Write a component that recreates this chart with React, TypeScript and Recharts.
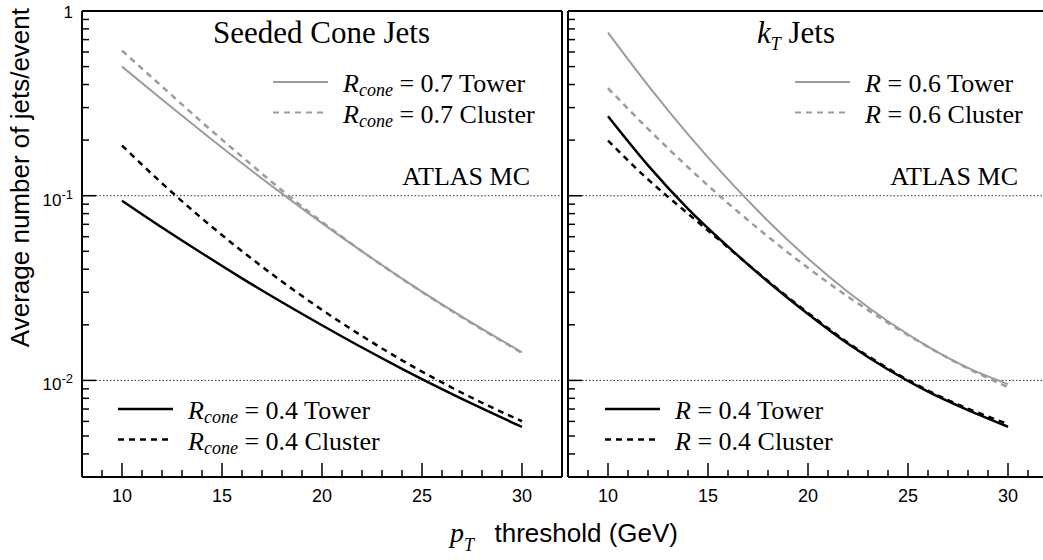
import React from "react";
import { LineChart, Line, XAxis, YAxis, ReferenceLine } from "recharts";

// pT threshold (GeV)
const ptThresholds = [10, 12, 14, 16, 18, 20, 22, 24, 26, 28, 30];

// Seeded cone jets
const coneTower07 = [0.5, 0.332, 0.222, 0.15, 0.1026, 0.0711, 0.05, 0.0356, 0.0258, 0.019, 0.0142];
const coneCluster07 = [0.61, 0.39, 0.25, 0.1626, 0.1069, 0.0721, 0.05, 0.0355, 0.0257, 0.0189, 0.0141];
const coneTower04 = [0.094, 0.0673, 0.0488, 0.0357, 0.0265, 0.0199, 0.01507, 0.01156, 0.00897, 0.00705, 0.0056];
const coneCluster04 = [0.187, 0.1167, 0.0753, 0.0501, 0.0343, 0.0241, 0.0174, 0.01285, 0.00975, 0.00757, 0.00601];

// kT jets
const ktTower06 = [0.764, 0.396, 0.215, 0.1225, 0.073, 0.0457, 0.0301, 0.0209, 0.01525, 0.0117, 0.00955];
const ktCluster06 = [0.382, 0.23, 0.1426, 0.0911, 0.06, 0.0407, 0.0284, 0.0205, 0.0152, 0.0116, 0.0092];
const ktTower04 = [0.269, 0.1459, 0.0849, 0.053, 0.0342, 0.0229, 0.0158, 0.01146, 0.00869, 0.0069, 0.00561];
const ktCluster04 = [0.1986, 0.1225, 0.08, 0.0525, 0.0345, 0.0232, 0.016, 0.01161, 0.00881, 0.00703, 0.00581];

const xTicks = [9, 10, 11, 12, 13, 14, 15, 16, 17, 18, 19, 20, 21, 22, 23, 24, 25, 26, 27, 28, 29, 30, 31];
const xLabelTicks = [10, 15, 20, 25, 30];
const yTicks = [
  0.004, 0.005, 0.006, 0.007, 0.008, 0.009, 0.01,
  0.02, 0.03, 0.04, 0.05, 0.06, 0.07, 0.08, 0.09, 0.1,
  0.2, 0.3, 0.4, 0.5, 0.6, 0.7, 0.8, 0.9, 1,
];
const yMajorTicks = [1, 0.1, 0.01];
const yMajorExponents = ["", "-1", "-2"];

const GRAY = "#9c9c9c";
const SANS = "'Liberation Sans', Arial, sans-serif";
const SERIF = "'Liberation Serif', 'Times New Roman', serif";

const coneData = ptThresholds.map((pt, i) => ({
  pt,
  tower07: coneTower07[i],
  cluster07: coneCluster07[i],
  tower04: coneTower04[i],
  cluster04: coneCluster04[i],
}));

const ktData = ptThresholds.map((pt, i) => ({
  pt,
  tower06: ktTower06[i],
  cluster06: ktCluster06[i],
  tower04: ktTower04[i],
  cluster04: ktCluster04[i],
}));

function XTick(props: any) {
  const { x, y, payload } = props;
  const v = payload.value;
  const major = xLabelTicks.includes(v);
  return (
    <g>
      <line x1={x} x2={x} y1={y} y2={y - (major ? 14 : 7)} stroke="#000" strokeWidth={1.5} />
      {major && (
        <text x={x} y={y + 25} textAnchor="middle" fontFamily={SANS} fontSize={18} fill="#000">
          {v}
        </text>
      )}
    </g>
  );
}

function makeYTick(showLabels: boolean) {
  return function YTick(props: any) {
    const { x, y, payload } = props;
    const v = payload.value;
    const idx = yMajorTicks.indexOf(v);
    const major = idx >= 0;
    const exp = major ? yMajorExponents[idx] : "";
    return (
      <g>
        <line x1={x} x2={x + (major ? 14 : 7)} y1={y} y2={y} stroke="#000" strokeWidth={1.5} />
        {showLabels && major && (
          <text x={x - 9} y={y + (exp ? 10 : 7)} textAnchor="end" fontFamily={SANS} fontSize={17} fill="#000">
            {exp ? "10" : "1"}
            {exp && (
              <tspan dy={-7} fontSize={13}>
                {exp}
              </tspan>
            )}
          </text>
        )}
      </g>
    );
  };
}

const YTickLabelled = makeYTick(true);
const YTickPlain = makeYTick(false);

function Frame({ right }: { right: boolean }) {
  return (
    <>
      <ReferenceLine y={0.1} stroke="#333" strokeWidth={1} strokeDasharray="1.5 2" />
      <ReferenceLine y={0.01} stroke="#333" strokeWidth={1} strokeDasharray="1.5 2" />
      <ReferenceLine y={1} stroke="#000" strokeWidth={2} ifOverflow="visible" />
      {right && <ReferenceLine x={32} stroke="#000" strokeWidth={2} ifOverflow="visible" />}
    </>
  );
}

function Legend({ x, y, items }: { x: number; y: number; items: { sub: string; text: string; color: string; dash?: string }[] }) {
  return (
    <g>
      {items.map((it, i) => {
        const by = y + i * 30.5;
        return (
          <g key={i}>
            <line
              x1={x}
              x2={x + 55}
              y1={by - 10}
              y2={by - 10}
              stroke={it.color}
              strokeWidth={it.color === GRAY ? 2 : 2.5}
              strokeDasharray={it.dash}
            />
            <text x={x + 70} y={by} fontFamily={SERIF} fontSize={26} fill="#000">
              <tspan fontStyle="italic">R</tspan>
              {it.sub && (
                <tspan fontStyle="italic" fontSize={18} dy={4}>
                  {it.sub}
                </tspan>
              )}
              <tspan dy={it.sub ? -4 : 0}>{" = " + it.text}</tspan>
            </text>
          </g>
        );
      })}
    </g>
  );
}

export default function App() {
  return (
    <div style={{ position: "fixed", left: 0, top: 0, width: 1043, height: 560, overflow: "hidden", background: "#fff" }}>
      <div style={{ position: "absolute", left: 0, top: 0 }}>
        <LineChart width={570} height={560} data={coneData} margin={{ top: 11, right: 8, bottom: 53, left: 0 }}>
          <XAxis
            dataKey="pt"
            type="number"
            domain={[8, 32]}
            ticks={xTicks}
            interval={0}
            height={30}
            tickSize={0}
            tickMargin={0}
            tickLine={false}
            axisLine={{ stroke: "#000", strokeWidth: 2 }}
            tick={<XTick />}
          />
          <YAxis
            type="number"
            scale="log"
            domain={[0.003, 1]}
            allowDataOverflow
            ticks={yTicks}
            interval={0}
            width={82}
            tickSize={0}
            tickMargin={0}
            tickLine={false}
            axisLine={{ stroke: "#000", strokeWidth: 2 }}
            tick={<YTickLabelled />}
          />
          {Frame({ right: true })}
          <Line dataKey="cluster07" type="monotone" stroke={GRAY} strokeWidth={2.5} strokeDasharray="6 5" dot={false} isAnimationActive={false} />
          <Line dataKey="tower07" type="monotone" stroke={GRAY} strokeWidth={2} dot={false} isAnimationActive={false} />
          <Line dataKey="cluster04" type="monotone" stroke="#000" strokeWidth={2.5} strokeDasharray="6 5" dot={false} isAnimationActive={false} />
          <Line dataKey="tower04" type="monotone" stroke="#000" strokeWidth={2.5} dot={false} isAnimationActive={false} />
        </LineChart>
      </div>
      <div style={{ position: "absolute", left: 560, top: 0 }}>
        <LineChart width={495} height={560} data={ktData} margin={{ top: 11, right: 7, bottom: 53, left: 0 }}>
          <XAxis
            dataKey="pt"
            type="number"
            domain={[8, 32]}
            ticks={xTicks}
            interval={0}
            height={30}
            tickSize={0}
            tickMargin={0}
            tickLine={false}
            axisLine={{ stroke: "#000", strokeWidth: 2 }}
            tick={<XTick />}
          />
          <YAxis
            type="number"
            scale="log"
            domain={[0.003, 1]}
            allowDataOverflow
            ticks={yTicks}
            interval={0}
            width={8}
            tickSize={0}
            tickMargin={0}
            tickLine={false}
            axisLine={{ stroke: "#000", strokeWidth: 2 }}
            tick={<YTickPlain />}
          />
          {Frame({ right: true })}
          <Line dataKey="tower06" type="monotone" stroke={GRAY} strokeWidth={2} dot={false} isAnimationActive={false} />
          <Line dataKey="cluster06" type="monotone" stroke={GRAY} strokeWidth={2.5} strokeDasharray="6 5" dot={false} isAnimationActive={false} />
          <Line dataKey="tower04" type="monotone" stroke="#000" strokeWidth={2.5} dot={false} isAnimationActive={false} />
          <Line dataKey="cluster04" type="monotone" stroke="#000" strokeWidth={2.5} strokeDasharray="6 5" dot={false} isAnimationActive={false} />
        </LineChart>
      </div>
      <svg width={1043} height={560} style={{ position: "absolute", left: 0, top: 0, pointerEvents: "none" }}>
        {/* axis titles */}
        <text transform="translate(29, 8) rotate(-90)" textAnchor="end" fontFamily={SANS} fontSize={26} fill="#000">
          Average number of jets/event
        </text>
        <text x={450} y={542} fontFamily={SERIF} fontSize={28} fontStyle="italic" fill="#000">
          p
          <tspan fontSize={18} dy={9}>T</tspan>
        </text>
        <text x={678} y={542} textAnchor="end" fontFamily={SANS} fontSize={26} fill="#000">
          threshold (GeV)
        </text>

        {/* panel titles */}
        <text x={213} y={43} fontFamily={SERIF} fontSize={31} fill="#000">
          Seeded Cone Jets
        </text>
        <text x={757} y={43} fontFamily={SERIF} fontSize={31} fill="#000">
          <tspan fontStyle="italic">k</tspan>
          <tspan fontStyle="italic" fontSize={18} dy={7}>T</tspan>
          <tspan dy={-7}>{"  Jets"}</tspan>
        </text>

        <text x={530} y={185} textAnchor="end" fontFamily={SERIF} fontSize={26} fill="#000">
          ATLAS MC
        </text>
        <text x={1018} y={185} textAnchor="end" fontFamily={SERIF} fontSize={26} fill="#000">
          ATLAS MC
        </text>

        <Legend
          x={273}
          y={92}
          items={[
            { sub: "cone", text: "0.7 Tower", color: GRAY },
            { sub: "cone", text: "0.7 Cluster", color: GRAY, dash: "6 5" },
          ]}
        />
        <Legend
          x={118}
          y={419}
          items={[
            { sub: "cone", text: "0.4 Tower", color: "#000" },
            { sub: "cone", text: "0.4 Cluster", color: "#000", dash: "6 5" },
          ]}
        />
        <Legend
          x={795}
          y={92}
          items={[
            { sub: "", text: "0.6 Tower", color: GRAY },
            { sub: "", text: "0.6 Cluster", color: GRAY, dash: "6 5" },
          ]}
        />
        <Legend
          x={605}
          y={419}
          items={[
            { sub: "", text: "0.4 Tower", color: "#000" },
            { sub: "", text: "0.4 Cluster", color: "#000", dash: "6 5" },
          ]}
        />
      </svg>
    </div>
  );
}
